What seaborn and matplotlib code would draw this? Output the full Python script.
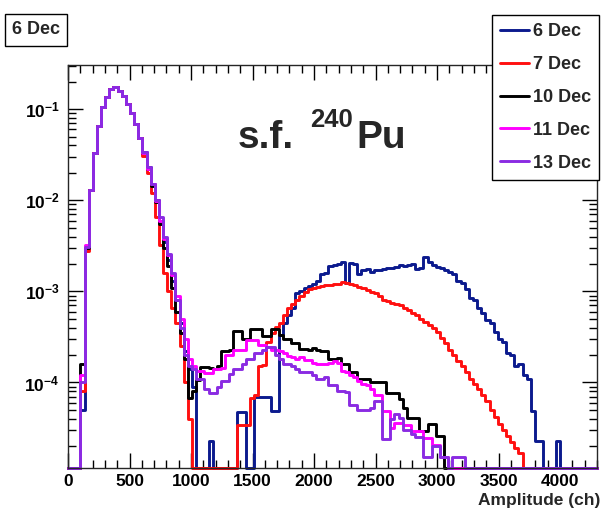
import numpy as np
import pandas as pd
import matplotlib
matplotlib.use("Agg")
import matplotlib.pyplot as plt
import seaborn as sns
from matplotlib.lines import Line2D
from matplotlib.ticker import FixedLocator, LogLocator, MultipleLocator, NullFormatter

# ---------------- data ----------------
x_min, x_max, n_bins = 0.0, 4300.0, 128
y_bottom, y_top = 1.15e-5, 0.306

dates = ["6 Dec", "7 Dec", "10 Dec", "11 Dec", "13 Dec"]
colors = ["#0b1a8e", "#ff1010", "#000000", "#ff00ff", "#8a2be2"]

x_ticks = [0, 500, 1000, 1500, 2000, 2500, 3000, 3500, 4000]
y_ticks = [1e-4, 1e-3, 1e-2, 1e-1]
y_tick_labels = [r"$10^{-4}$", r"$10^{-3}$", r"$10^{-2}$", r"$10^{-1}$"]

# bins 0-4 (rising edge)
lead_6 = [0, 0, 0, 5e-5, 3.0e-3]
lead_7 = [0, 0, 0, 8e-5, 2.8e-3]
lead_10 = [0, 0, 0, 1.6e-4, 3.0e-3]
lead_11 = [0, 0, 0, 1.2e-4, 3.2e-3]
lead_13 = [0, 0, 0, 1.0e-4, 3.1e-3]

# bins 5-17 (main alpha peak, common to all days)
peak_common = [1.3e-2, 3.3e-2, 6.5e-2, 0.105, 0.135, 0.165, 0.175, 0.16, 0.14,
               0.115, 0.09, 0.068, 0.048]

# bins 18-127
tail_6 = [0.034, 0.023, 0.015, 0.010,
          6e-3, 3.5e-3, 2.2e-3, 1.3e-3, 8e-4, 4.5e-4, 2.2e-4, 1.4e-4,
          9e-5, 0, 0, 0, 2.3e-5, 0, 0, 0, 0, 0, 0,
          4.7e-5, 4.7e-5, 0, 0, 6.9e-5, 6.9e-5, 6.9e-5, 6.9e-5, 4.8e-5, 4.8e-5,
          3.3e-4, 4.5e-4, 5.5e-4, 6.5e-4, 9.5e-4, 1.0e-3, 1.1e-3, 1.15e-3, 1.2e-3, 1.3e-3,
          1.55e-3, 1.6e-3, 1.9e-3, 1.95e-3, 2.0e-3, 2.1e-3, 1.25e-3, 2.05e-3, 2.0e-3, 1.55e-3,
          1.7e-3, 1.75e-3, 1.65e-3, 1.7e-3, 1.72e-3, 1.75e-3, 1.8e-3, 1.8e-3, 1.85e-3, 1.95e-3,
          1.9e-3, 1.95e-3, 2.0e-3, 1.75e-3, 1.8e-3, 2.4e-3, 2.1e-3, 1.95e-3, 1.85e-3, 1.8e-3,
          1.7e-3, 1.65e-3, 1.55e-3, 1.3e-3, 1.25e-3, 1.05e-3, 8.5e-4, 8.0e-4, 6.5e-4, 5.8e-4,
          4.8e-4, 4.5e-4, 3.6e-4, 3.0e-4, 2.8e-4, 2.1e-4, 2.0e-4, 1.5e-4, 1.6e-4, 1.2e-4,
          1.1e-4, 4.8e-5, 2.3e-5, 2.3e-5, 0, 0, 0, 2.3e-5,
          0, 0, 0, 0, 0, 0, 0, 0, 0]

tail_7 = [0.031, 0.020, 0.012, 0.0065,
          3.2e-3, 1.6e-3, 1.0e-3, 6.5e-4, 4.5e-4, 2.5e-4, 1.0e-4, 4e-5,
          0, 0, 0, 0, 0, 0, 0, 0, 0, 0, 0,
          3.4e-5, 3.4e-5, 3.4e-5,
          6.8e-5, 7.2e-5, 1.5e-4, 1.55e-4, 2.75e-4, 3.5e-4, 4.1e-4, 4.5e-4, 5.5e-4,
          6.5e-4, 7.2e-4, 8.0e-4, 9.0e-4, 9.8e-4, 1.05e-3, 1.1e-3, 1.12e-3, 1.15e-3, 1.17e-3,
          1.18e-3, 1.2e-3, 1.22e-3, 1.26e-3, 1.24e-3, 1.2e-3, 1.17e-3, 1.13e-3, 1.08e-3, 1.03e-3,
          9.8e-4, 9.5e-4, 8.8e-4, 8.0e-4, 7.8e-4, 7.4e-4, 7.2e-4, 7.0e-4, 6.6e-4, 6.2e-4,
          5.8e-4, 5.5e-4, 5.0e-4, 4.6e-4, 4.3e-4, 4.0e-4, 3.6e-4, 3.1e-4, 2.7e-4, 2.3e-4,
          2.0e-4, 1.7e-4, 1.5e-4, 1.3e-4, 1.1e-4, 9.5e-5, 8.5e-5, 7.2e-5, 6.2e-5, 5.0e-5,
          4.2e-5, 3.5e-5, 3.0e-5, 2.6e-5, 2.2e-5, 1.9e-5, 1.7e-5,
          0, 0, 0, 0, 0, 0, 0, 0, 0, 0, 0, 0, 0, 0, 0, 0, 0, 0]

tail_10 = [0.033, 0.022, 0.0145, 0.0095,
           5.5e-3, 3.0e-3, 1.9e-3, 1.1e-3, 6e-4, 3.5e-4, 1.8e-4,
           6.8e-5, 8e-5, 1.07e-4, 1.48e-4, 1.48e-4, 1.45e-4, 1.4e-4, 1.5e-4, 2.2e-4, 2.2e-4,
           2.3e-4, 3.7e-4, 3.7e-4, 3.0e-4, 3.0e-4,
           3.9e-4, 3.9e-4, 3.9e-4, 3.2e-4, 3.2e-4, 3.9e-4, 3.9e-4, 3.3e-4, 3.0e-4, 3.0e-4,
           2.7e-4, 2.7e-4, 2.35e-4, 2.35e-4, 2.3e-4, 2.4e-4, 2.25e-4, 2.2e-4, 2.2e-4, 1.8e-4,
           1.8e-4, 1.85e-4, 1.6e-4, 1.6e-4, 1.3e-4, 1.3e-4, 1.1e-4, 1.1e-4, 1.1e-4, 1.02e-4,
           1.02e-4, 1.02e-4, 1.0e-4, 7.6e-5, 7.6e-5, 7.6e-5, 6.5e-5, 5.2e-5, 4.1e-5, 4.1e-5,
           4.1e-5, 2.9e-5, 2.9e-5, 3.5e-5, 3.5e-5, 2.6e-5, 2.6e-5,
           0, 0, 0, 0, 0, 0, 0, 0, 0, 0, 0, 0, 0, 0, 0, 0, 0, 0, 0, 0,
           0, 0, 0, 0, 0, 0, 0, 0, 0, 0, 0, 0, 0, 0, 0, 0, 0]

tail_11 = [0.033, 0.022, 0.015, 0.0098,
           6e-3, 3.8e-3, 2.5e-3, 1.5e-3, 9e-4, 5e-4, 3e-4,
           1.8e-4, 1.5e-4, 1.35e-4, 1.35e-4, 1.26e-4, 1.26e-4, 1.4e-4, 1.4e-4, 1.45e-4, 2.0e-4,
           2.0e-4, 2.25e-4, 2.3e-4, 2.3e-4, 2.9e-4, 2.9e-4, 2.9e-4, 2.6e-4, 2.6e-4, 2.45e-4,
           2.3e-4, 2.3e-4, 2.2e-4, 2.1e-4, 1.95e-4, 1.9e-4, 1.8e-4, 1.9e-4, 1.75e-4, 1.75e-4,
           1.65e-4, 1.6e-4, 1.6e-4, 1.6e-4, 1.65e-4, 1.7e-4, 1.65e-4, 1.35e-4, 1.3e-4, 1.2e-4,
           1.15e-4, 1.05e-4, 9.5e-5, 9.3e-5, 8.5e-5, 7.3e-5, 7.2e-5, 4.8e-5, 4.8e-5, 3.2e-5,
           3.6e-5, 3.6e-5, 3.4e-5, 3.4e-5, 2.9e-5, 2.9e-5, 2.9e-5, 2.45e-5, 2.45e-5, 2.05e-5,
           2.05e-5, 1.5e-5, 1.5e-5,
           0, 0, 0, 0, 0, 0, 0, 0, 0, 0, 0, 0, 0, 0, 0, 0, 0, 0, 0, 0,
           0, 0, 0, 0, 0, 0, 0, 0, 0, 0, 0, 0, 0, 0, 0, 0]

tail_13 = [0.034, 0.023, 0.015, 0.010,
           6.5e-3, 4e-3, 2.6e-3, 1.6e-3, 8e-4,
           4e-4, 2e-4, 1.5e-4, 1.4e-4, 1.1e-4, 1.1e-4, 8.5e-5, 7.6e-5, 7.6e-5, 9e-5,
           1.05e-4, 1.05e-4, 1.25e-4, 1.4e-4, 1.4e-4, 1.6e-4, 1.8e-4, 1.8e-4, 2.1e-4, 2.1e-4,
           2.3e-4, 2.45e-4, 2.45e-4, 2.0e-4, 1.8e-4, 1.6e-4, 1.6e-4, 1.5e-4, 1.4e-4, 1.3e-4,
           1.3e-4, 1.3e-4, 1.2e-4, 1.1e-4, 1.1e-4, 1.15e-4, 9.3e-5, 9.3e-5, 8e-5, 8e-5,
           7.9e-5, 5.6e-5, 5.6e-5, 5e-5, 5e-5, 5e-5, 5.2e-5, 6.2e-5, 6.2e-5, 2.4e-5,
           2.4e-5, 4e-5, 4.5e-5, 4.1e-5, 3e-5, 3e-5, 2.7e-5, 2.5e-5, 2.5e-5, 1.5e-5,
           1.5e-5, 2e-5, 2e-5, 1.5e-5, 1.5e-5, 0, 1.5e-5, 1.5e-5, 1.5e-5,
           0, 0, 0, 0, 0, 0, 0, 0, 0, 0, 0, 0, 0, 0, 0, 0,
           0, 0, 0, 0, 0, 0, 0, 0, 0, 0, 0, 0, 0, 0, 0, 0]

leads = [lead_6, lead_7, lead_10, lead_11, lead_13]
tails = [tail_6, tail_7, tail_10, tail_11, tail_13]

# ---------------- build table ----------------
edges = np.linspace(x_min, x_max, n_bins + 1)
centers = 0.5 * (edges[:-1] + edges[1:])
frames = []
for d, lead, tail in zip(dates, leads, tails):
    vals = np.array(lead + peak_common + tail, dtype=float)
    assert len(vals) == n_bins, (d, len(vals))
    # empty bins are drawn on the lower frame, as ROOT does
    frames.append(pd.DataFrame({"amp": centers, "val": np.maximum(vals, y_bottom), "date": d}))
df = pd.concat(frames, ignore_index=True)

# ---------------- style ----------------
sns.set_style("ticks")
plt.rcParams["font.family"] = ["Liberation Sans", "DejaVu Sans"]
plt.rcParams["font.weight"] = "bold"
plt.rcParams["mathtext.fontset"] = "custom"
plt.rcParams["mathtext.rm"] = "Liberation Sans:bold"
plt.rcParams["mathtext.it"] = "Liberation Sans:bold"
plt.rcParams["mathtext.bf"] = "Liberation Sans:bold"
plt.rcParams["axes.linewidth"] = 1.0

W, H = 603, 514
fig = plt.figure(figsize=(W / 100, H / 100), dpi=100)
ax = fig.add_axes([68 / W, 1 - 468 / H, (597 - 68) / W, (468 - 65) / H])

for d, c in zip(dates, colors):
    sns.histplot(data=df[df["date"] == d], x="amp", weights="val", bins=edges.tolist(),
                 element="step", fill=False, color=c, linewidth=2.1, ax=ax,
                 clip_on=False)

ax.set_yscale("log")
ax.set_xlim(x_min, x_max)
ax.set_ylim(y_bottom, y_top)

ax.xaxis.set_major_locator(FixedLocator(x_ticks))
ax.set_xticklabels([str(t) for t in x_ticks])
ax.xaxis.set_minor_locator(MultipleLocator(100))
ax.yaxis.set_major_locator(FixedLocator(y_ticks))
ax.set_yticklabels(y_tick_labels)
ax.yaxis.set_minor_locator(LogLocator(base=10, subs=np.arange(2, 10)))
ax.yaxis.set_minor_formatter(NullFormatter())

ax.tick_params(which="both", direction="in", top=True, right=True, width=1, colors="black")
ax.tick_params(which="major", length=11)
ax.tick_params(which="minor", length=5.5)
ax.tick_params(axis="x", which="major", labelsize=12.5, pad=4)
ax.tick_params(axis="y", which="major", labelsize=12.5, pad=6)
for lab in ax.get_xticklabels() + ax.get_yticklabels():
    lab.set_fontweight("bold")

ax.set_ylabel("")
ax.set_xlabel("Amplitude (ch)", fontsize=12.5, fontweight="bold", ha="right")
ax.xaxis.set_label_coords(1.0 + 3 / 529, -0.062)


def fig_xy(px, py):
    return px / W, 1 - py / H


fig.text(*fig_xy(238, 148), "s.f.", fontsize=28, fontweight="bold", va="baseline", ha="left")
fig.text(*fig_xy(310, 127), "240", fontsize=18.5, fontweight="bold", va="baseline", ha="left")
fig.text(*fig_xy(356, 148), "Pu", fontsize=28, fontweight="bold", va="baseline", ha="left")

handles = [Line2D([0], [0], color=c, lw=2.1) for c in colors]
leg = ax.legend(handles, dates, loc="upper left", bbox_to_anchor=(492 / W, 1 - 15 / H),
                bbox_transform=fig.transFigure, frameon=True, fancybox=False,
                framealpha=1, edgecolor="black", prop={"weight": "bold", "size": 13},
                handlelength=1.6, handletextpad=0.2, labelspacing=0.88,
                borderpad=0.45, borderaxespad=0)
leg.get_frame().set_linewidth(1.0)

fig.text(12 / W, 1 - 30 / H, "6 Dec", fontsize=13, fontweight="bold", va="center", ha="left",
         bbox=dict(boxstyle="square,pad=0.4", fc="white", ec="black", lw=1))

fig.savefig("out.png", dpi=100, facecolor="white")
